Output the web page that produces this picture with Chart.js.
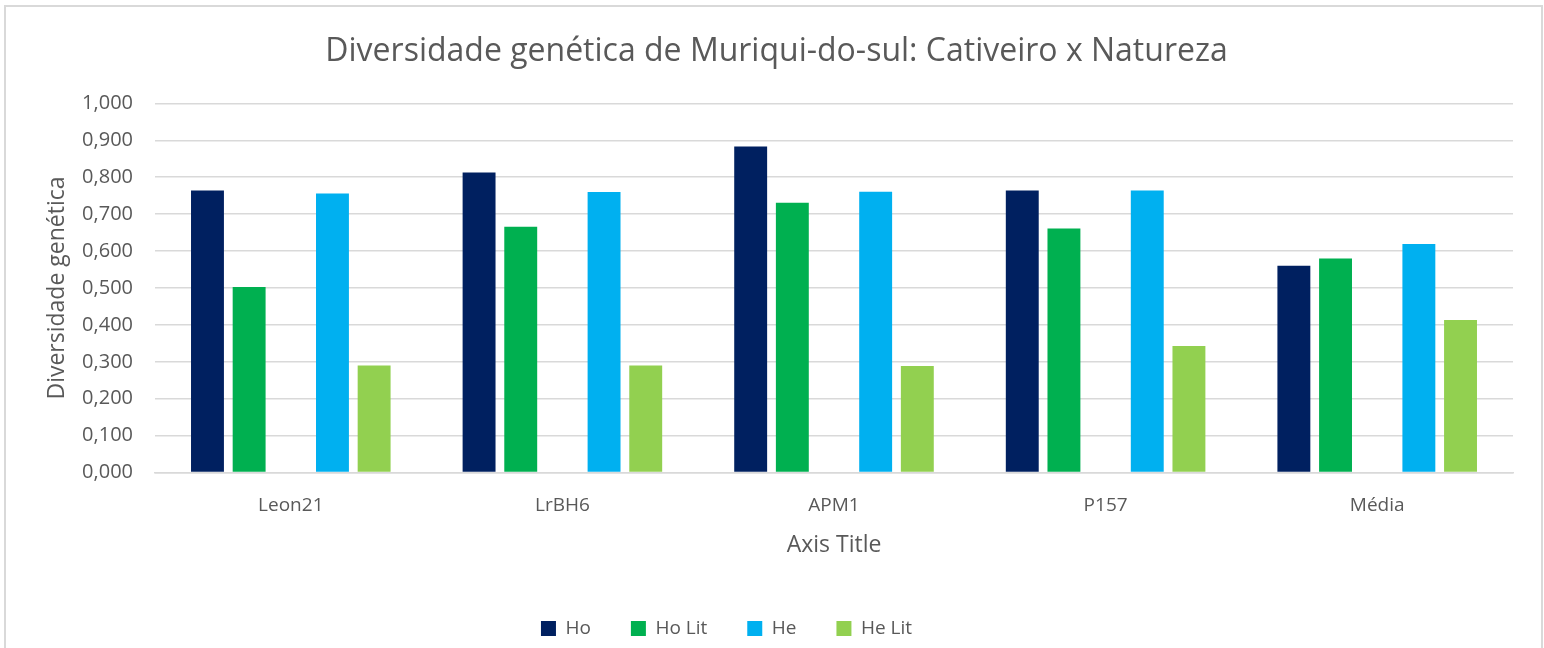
<!DOCTYPE html>
<html>
<head>
<meta charset="utf-8">
<script src="https://cdn.jsdelivr.net/npm/chart.js@4/dist/chart.umd.min.js"></script>
<style>
  html, body { margin: 0; padding: 0; background: #fff; overflow: hidden; }
  #moldura {
    position: absolute; left: 4px; top: 5px;
    width: 1535px; height: 700px;
    border: 2px solid #D9D9D9; border-bottom: none;
  }
  #grafico { display: block; }
</style>
</head>
<body>
<div id="moldura"><canvas id="grafico" width="1535" height="643"></canvas></div>
<script>
const categorias = ["Leon21", "LrBH6", "APM1", "P157", "Média"];
const ho = [0.764, 0.813, 0.883, 0.764, 0.560];
const hoLit = [0.503, 0.666, 0.731, 0.661, 0.580];
const vazio = [null, null, null, null, null];
const he = [0.756, 0.760, 0.761, 0.764, 0.619];
const heLit = [0.290, 0.290, 0.289, 0.343, 0.413];

const corTexto = "#595959";
const fonte = "'Open Sans', 'Liberation Sans', sans-serif";

const serie = (label, data, cor) => ({
  label,
  data,
  backgroundColor: cor,
  borderWidth: 0,
  barPercentage: 0.79,
  categoryPercentage: 0.767,
});

// a legenda do original fica um pouco à esquerda do centro
const deslocaLegenda = {
  id: "deslocaLegenda",
  afterLayout(chart) {
    const lg = chart.legend;
    if (lg) {
      lg.left -= 50;
      lg.right -= 50;
    }
  },
};

new Chart(document.getElementById("grafico"), {
  type: "bar",
  data: {
    labels: categorias,
    datasets: [
      serie("Ho", ho, "#002060"),
      serie("Ho Lit", hoLit, "#00B050"),
      serie("", vazio, "rgba(0,0,0,0)"),
      serie("He", he, "#00B0F0"),
      serie("He Lit", heLit, "#92D050"),
    ],
  },
  options: {
    responsive: false,
    animation: false,
    layout: { padding: { left: 34, right: 28, top: 8, bottom: 2 } },
    plugins: {
      title: {
        display: true,
        text: "Diversidade genética de Muriqui-do-sul: Cativeiro x Natureza",
        color: corTexto,
        font: { family: fonte, size: 32, weight: "normal" },
        padding: { top: 18, bottom: 32 },
      },
      legend: {
        position: "bottom",
        labels: {
          color: corTexto,
          font: { family: fonte, size: 19 },
          boxWidth: 15,
          boxHeight: 15,
          padding: 40,
          filter: (item) => item.text !== "",
        },
      },
      tooltip: { enabled: false },
    },
    scales: {
      x: {
        grid: { display: false },
        border: { color: "#D9D9D9", width: 1.5 },
        ticks: {
          color: corTexto,
          font: { family: fonte, size: 19 },
          padding: 14,
        },
        title: {
          display: true,
          text: "Axis Title",
          color: corTexto,
          font: { family: fonte, size: 23 },
          padding: { top: 0, bottom: 20 },
        },
      },
      y: {
        min: 0,
        max: 1,
        afterFit: (escala) => { escala.width = 115; },
        ticks: {
          stepSize: 0.1,
          color: corTexto,
          font: { family: fonte, size: 20 },
          padding: 22,
          callback: (v) => v.toFixed(3).replace(".", ","),
        },
        grid: { color: "#D9D9D9", lineWidth: 1.5, drawTicks: false },
        border: { display: false },
        title: {
          display: true,
          text: "Diversidade genética",
          color: corTexto,
          font: { family: fonte, size: 23 },
          padding: { top: 4, bottom: 2 },
        },
      },
    },
  },
  plugins: [deslocaLegenda],
});
</script>
</body>
</html>
